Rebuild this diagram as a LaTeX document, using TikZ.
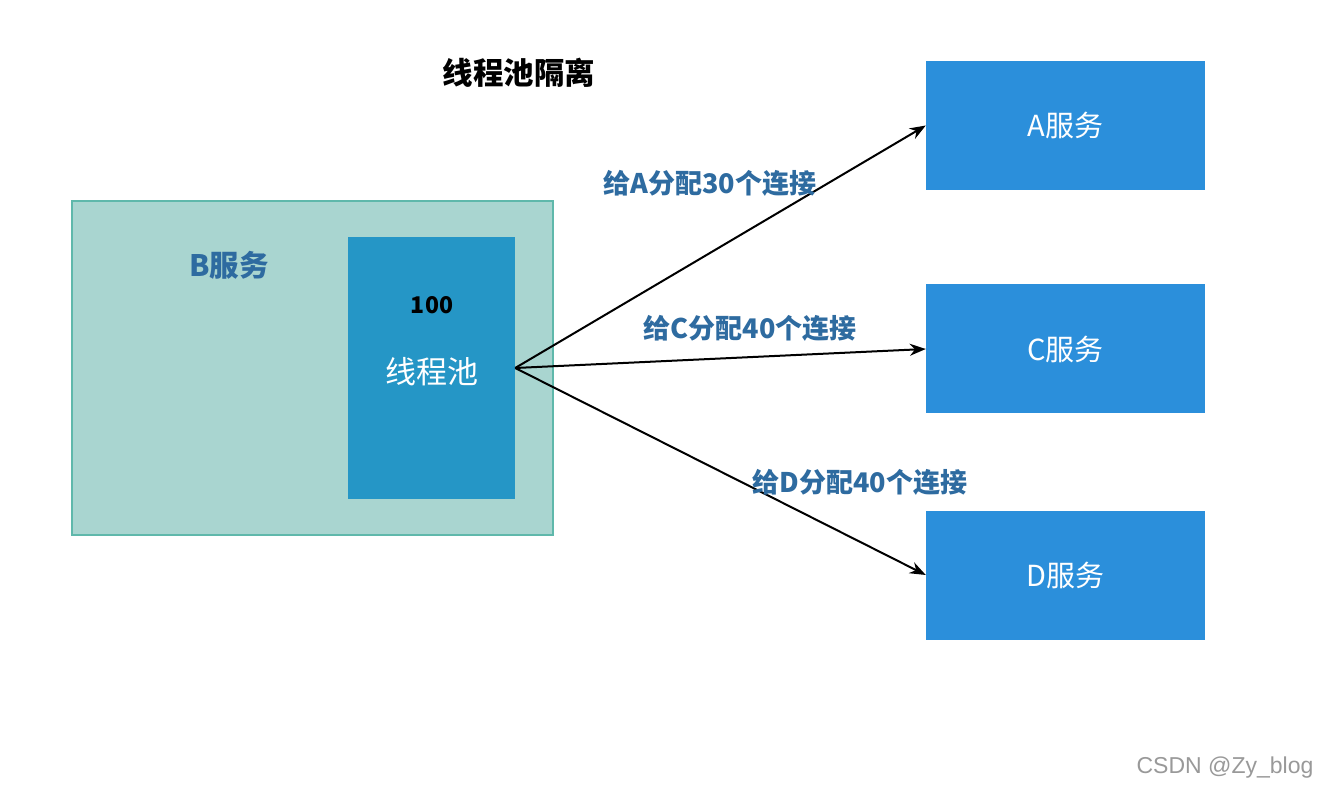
\documentclass[tikz,border=0pt]{standalone}
\usepackage{fontspec}
\setmainfont{Noto Sans CJK SC}
\newfontfamily\wmfont{Liberation Sans}
\usetikzlibrary{arrows.meta}
\definecolor{bfill}{HTML}{A9D5D0}
\definecolor{bdraw}{HTML}{5FB8AB}
\definecolor{poolfill}{HTML}{2596C6}
\definecolor{svcfill}{HTML}{2B8FDB}
\definecolor{lblblue}{HTML}{2E6BA0}
\tikzset{
  svc/.style={draw=none, fill=svcfill, minimum width=279pt, minimum height=129pt, inner sep=0pt,
    text=white, font=\fontsize{29}{32}\selectfont},
  lbl/.style={text=lblblue, font=\fontsize{27}{30}\selectfont\bfseries, inner sep=0pt},
  conn/.style={-{Stealth[length=16pt,width=12pt]}, line width=2pt, black},
}
\begin{document}
\begin{tikzpicture}[x=1pt,y=-1pt]
\useasboundingbox (0,0) rectangle (1318,791);
\fill[white] (0,0) rectangle (1318,791);
% title
\node[font=\fontsize{30.5}{33}\selectfont\bfseries, inner sep=0pt] (title) at (519,73) {线程池隔离};
% B service
\node[draw=bdraw, line width=1.5pt, fill=bfill, minimum width=481pt, minimum height=334pt, inner sep=0pt] (B) at (312.5,368) {};
\node[text=lblblue, font=\fontsize{29.5}{32}\selectfont\bfseries, inner sep=0pt] (Blbl) at (229,265) {B服务};
% pool
\node[fill=poolfill, minimum width=167pt, minimum height=262pt, inner sep=0pt] (pool) at (431.5,368) {};
\node[font=\fontsize{23}{26}\selectfont\bfseries, inner sep=0pt] (cnt) at (432,305) {100};
\node[text=white, font=\fontsize{31}{34}\selectfont, inner sep=0pt] (plbl) at (432,372) {线程池};
% services
\node[svc] (A) at (1065.5,125.5) {A服务};
\node[svc] (C) at (1065.5,349) {C服务};
\node[svc] (D) at (1065.5,575) {D服务};
% connectors
\draw[conn] (pool.east) -- (A.west);
\draw[conn] (pool.east) -- (C.west);
\draw[conn] (pool.east) -- (D.west);
% labels
\node[lbl] (la) at (710,183) {给A分配30个连接};
\node[lbl] (lc) at (750,328) {给C分配40个连接};
\node[lbl] (ld) at (860,482) {给D分配40个连接};
% watermark
\node[text=black!40, font=\wmfont\fontsize{23}{25}\selectfont, inner sep=0pt] (wm) at (1225,768) {CSDN @Zy\_blog};
\end{tikzpicture}
\end{document}
